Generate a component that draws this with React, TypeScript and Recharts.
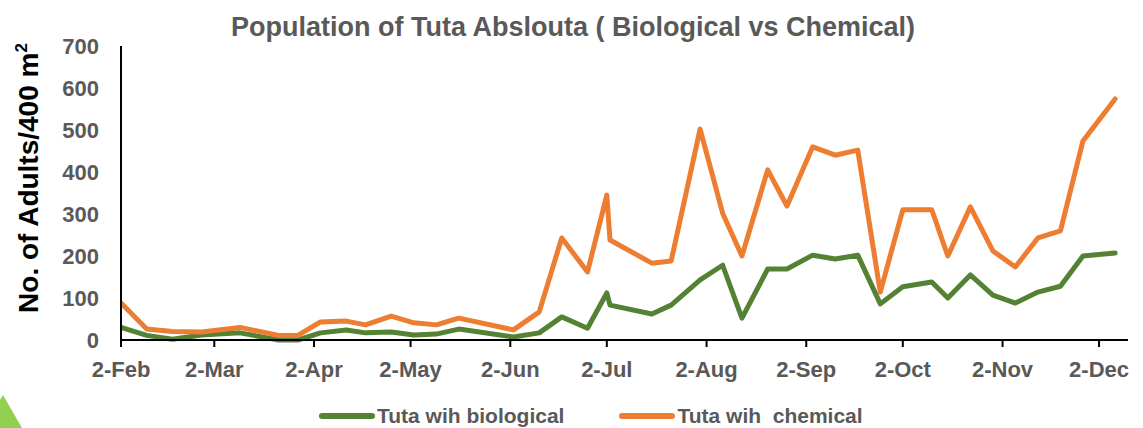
import React from 'react';
import { LineChart, Line, XAxis, YAxis, Legend } from 'recharts';

const sampleDates: string[] = [
  '2024-02-02', '2024-02-10', '2024-02-18', '2024-02-27', '2024-03-10', '2024-03-22', '2024-03-28',
  '2024-04-04', '2024-04-12', '2024-04-18', '2024-04-26', '2024-05-03', '2024-05-10', '2024-05-17',
  '2024-06-03', '2024-06-11', '2024-06-18', '2024-06-26', '2024-07-02', '2024-07-03', '2024-07-16',
  '2024-07-22', '2024-07-31', '2024-08-07', '2024-08-13', '2024-08-21', '2024-08-27', '2024-09-04',
  '2024-09-11', '2024-09-18', '2024-09-25', '2024-10-02', '2024-10-11', '2024-10-16', '2024-10-23',
  '2024-10-30', '2024-11-06', '2024-11-13', '2024-11-20', '2024-11-27', '2024-12-07',
];

const biological: number[] = [
  30, 11, 2, 12, 17, 0, 0,
  17, 24, 17, 19, 12, 14, 26,
  7, 17, 55, 28, 112, 83, 62,
  83, 143, 178, 52, 169, 169, 202,
  193, 202, 86, 127, 138, 100, 155,
  107, 88, 114, 128, 200, 207,
];

const chemical: number[] = [
  88, 26, 20, 19, 30, 11, 11,
  43, 45, 36, 57, 41, 36, 52,
  24, 67, 243, 162, 345, 238, 183,
  188, 502, 302, 200, 405, 319, 460,
  440, 452, 114, 310, 310, 200, 317,
  212, 174, 243, 260, 474, 574,
];

const xTickDates: string[] = [
  '2024-02-02', '2024-03-02', '2024-04-02', '2024-05-02', '2024-06-02', '2024-07-02',
  '2024-08-02', '2024-09-02', '2024-10-02', '2024-11-02', '2024-12-02',
];
const xDomainDates: string[] = ['2024-02-02', '2024-12-11'];
const yTicks: number[] = [0, 100, 200, 300, 400, 500, 600, 700];

const seriesNames = { bio: 'Tuta wih biological', chem: 'Tuta wih  chemical' };
const titleText = 'Population of Tuta Abslouta ( Biological vs Chemical)';

const MONTHS = ['Jan', 'Feb', 'Mar', 'Apr', 'May', 'Jun', 'Jul', 'Aug', 'Sep', 'Oct', 'Nov', 'Dec'];
const toTs = (s: string) => {
  const [y, m, d] = s.split('-').map(Number);
  return Date.UTC(y, m - 1, d);
};
const fmtDate = (ts: number) => {
  const d = new Date(ts);
  return `${d.getUTCDate()}-${MONTHS[d.getUTCMonth()]}`;
};

const data = sampleDates.map((s, i) => ({ t: toTs(s), bio: biological[i], chem: chemical[i] }));

const FONT = '"Liberation Sans", Arial, sans-serif';
const GRAY = '#595959';
const GREEN = '#548235';
const ORANGE = '#ED7D31';

const YLabel = () => (
  <text
    transform="translate(38,178) rotate(-90)"
    textAnchor="middle"
    fontFamily={FONT}
    fontWeight="bold"
    fontSize={28}
    fill="#000"
  >
    No. of Adults/400 m<tspan dy={-11} fontSize={17}>2</tspan>
  </text>
);

const LegendContent = () => (
  <div style={{ display: 'flex', alignItems: 'center', fontFamily: FONT, fontWeight: 'bold', fontSize: 21, color: GRAY }}>
    {[{ c: GREEN, n: seriesNames.bio }, { c: ORANGE, n: seriesNames.chem }].map((it, i) => (
      <div key={i} style={{ display: 'flex', alignItems: 'center', marginRight: 55 }}>
        <svg width={56} height={10} style={{ marginRight: 2 }}>
          <line x1={3} y1={5} x2={53} y2={5} stroke={it.c} strokeWidth={6} strokeLinecap="round" />
        </svg>
        <span style={{ whiteSpace: 'pre' }}>{it.n}</span>
      </div>
    ))}
  </div>
);

export default function App() {
  return (
    <div style={{ position: 'fixed', left: 0, top: 0, width: 1143, height: 428, background: '#fff', overflow: 'hidden' }}>
      <div
        style={{
          position: 'absolute', top: 12, left: 0, width: 1146, textAlign: 'center',
          fontFamily: FONT, fontWeight: 'bold', fontSize: 27, lineHeight: '30px', color: GRAY,
        }}
      >
        {titleText}
      </div>
      <svg width={24} height={40} style={{ position: 'absolute', left: 0, top: 390 }}>
        <polygon points="0,10 3,5 22,38 0,38" fill="#92D050" />
      </svg>
      <LineChart
        width={1143}
        height={428}
        data={data}
        margin={{ top: 46, right: 15, bottom: 58, left: 0 }}
        style={{ position: 'absolute', left: 0, top: 0 }}
      >
        <XAxis
          dataKey="t"
          type="number"
          scale="linear"
          domain={[toTs(xDomainDates[0]), toTs(xDomainDates[1])]}
          ticks={xTickDates.map(toTs)}
          tickFormatter={fmtDate}
          height={30}
          axisLine={{ stroke: '#000', strokeWidth: 2 }}
          tickLine={{ stroke: '#000', strokeWidth: 2 }}
          tickSize={7}
          tickMargin={14}
          tick={{ fill: GRAY, fontFamily: FONT, fontWeight: 'bold', fontSize: 22 }}
          allowDataOverflow
        />
        <YAxis
          type="number"
          domain={[0, 700]}
          ticks={yTicks}
          width={121}
          axisLine={{ stroke: '#000', strokeWidth: 2 }}
          tickLine={false}
          tickSize={0}
          tickMargin={22}
          tick={{ fill: GRAY, fontFamily: FONT, fontWeight: 'bold', fontSize: 22 }}
          label={YLabel}
        />
        <Legend
          layout="horizontal"
          verticalAlign="middle"
          align="center"
          wrapperStyle={{ top: 404, left: 319, width: 800 }}
          content={LegendContent}
        />
        <Line
          type="linear"
          dataKey="bio"
          name={seriesNames.bio}
          stroke={GREEN}
          strokeWidth={5}
          strokeLinejoin="round"
          strokeLinecap="round"
          dot={false}
          activeDot={false}
          isAnimationActive={false}
        />
        <Line
          type="linear"
          dataKey="chem"
          name={seriesNames.chem}
          stroke={ORANGE}
          strokeWidth={5}
          strokeLinejoin="round"
          strokeLinecap="round"
          dot={false}
          activeDot={false}
          isAnimationActive={false}
        />
      </LineChart>
    </div>
  );
}
